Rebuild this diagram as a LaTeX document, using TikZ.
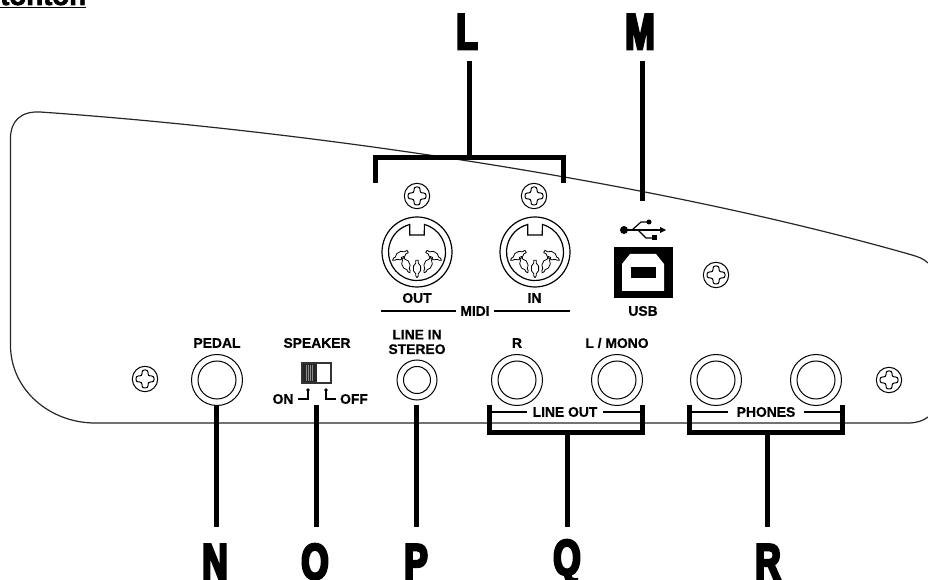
\documentclass[tikz,border=0pt]{standalone}
\usepackage{fontspec}
\setmainfont{Liberation Sans}
\newfontfamily\heavy[FakeStretch=0.7,FakeBold=5]{Liberation Sans Bold}
\newfontfamily\lbl[FakeBold=0.5]{Liberation Sans Bold}
\newfontfamily\headf[FakeBold=2.5]{Liberation Sans Bold}
\tikzset{
  outline/.style={draw=black!85,line width=0.9pt},
  leader/.style={draw=black,line width=3.75pt},
  fine/.style={draw=black,line width=0.75pt},
  rule/.style={draw=black,line width=1.3pt},
  letter/.style={font=\heavy\fontsize{37.7}{37.7}\selectfont,inner sep=0pt,text=black,anchor=base},
  tag/.style={font=\lbl\fontsize{10.4}{10.9}\selectfont,inner sep=0pt,align=center,text=black},
  pics/screw/.style={code={
    \draw[fine] (0,0) circle (12.7);
    \draw[fine,rounded corners=1.8pt] (-3,-9) -- (3,-9) -- (3,-3) -- (9,-3) -- (9,3) -- (3,3) -- (3,9) -- (-3,9) -- (-3,3) -- (-9,3) -- (-9,-3) -- (-3,-3) -- cycle;
  }},
  pics/jack/.style={code={
    \draw[fine] (0,0) circle (25.5);
    \draw[fine] (0,0) circle (19);
  }},
  pics/smalljack/.style={code={
    \draw[fine] (0,0) circle (20);
    \draw[fine] (0,0) circle (13.5);
  }},
  din pin/.style={line width=0.6pt,line join=round},
  pics/din/.style={code={
    \draw[line width=0.9pt] (0,0) circle (35);
    \draw[line width=0.9pt] (7.4,-27.5) arc (-75:255:28.5) -- (-7.3,-17) -- (7.3,-17) -- cycle;
    \foreach \px/\py/\rot in {-16.7/3.7/-60,-11/12.7/25,0/16.7/0,11/12.7/-25,16.7/3.7/60}{
      \begin{scope}[shift={(\px,\py)},rotate=\rot]
        \draw[din pin] (-1.3,-8.5) -- (1.3,-8.5) -- (1.3,-5.5) -- (3.6,-2.5) -- (3.6,2) -- (1.3,5) -- (1.3,7) -- (0,9) -- (-1.3,7) -- (-1.3,5) -- (-3.6,2) -- (-3.6,-2.5) -- (-1.3,-5.5) -- cycle;
      \end{scope}
    }
  }}
}
\begin{document}
\begin{tikzpicture}[x=0.75pt,y=-0.75pt]
\useasboundingbox (0,0) rectangle (928,580);
% cut-off heading
\node[font=\headf\fontsize{20.7}{20.7}\selectfont,anchor=base west,inner sep=0pt] (head) at (0,5) {tonton};
\fill (0,6.7) rectangle (86,8.5);
% body outline
\draw[outline] (912,255) .. controls (650,180) and (300,130) .. (40,112) .. controls (20,111) and (10.5,122) .. (10.5,138) -- (10.5,345) .. controls (10.5,390) and (50,423) .. (95,423) -- (908,423) .. controls (916,423) and (923,421) .. (928,417);
\draw[outline] (912,255) .. controls (919,257) and (924,259) .. (928,263);
% letters
\node[letter] (L) at (467,49) {L};
\node[letter] (M) at (640,49) {M};
\node[letter] (N) at (215,579) {N};
\node[letter] (O) at (315,579) {O};
\node[letter] (P) at (416,579) {P};
\node[letter] (Q) at (567,575) {Q};
\node[letter] (R) at (768,579) {R};
% leader ends
\coordinate (Ltop) at (469,61);
\coordinate (Ljoin) at (469,157.5);
\coordinate (Lleft) at (375.5,183);
\coordinate (Lright) at (563.5,183);
\coordinate (Mtop) at (642,61);
\coordinate (Mend) at (642,201);
\coordinate (Nend) at (216,405);
\coordinate (Nlow) at (216,527);
\coordinate (Oend) at (316,405);
\coordinate (Olow) at (316,527);
\coordinate (Pend) at (416.5,405);
\coordinate (Plow) at (416.5,527);
\coordinate (Qlow) at (567,527);
\coordinate (Qjoin) at (567,432.5);
\coordinate (Qleft) at (489.5,405);
\coordinate (Qright) at (642.5,405);
\coordinate (Rlow) at (767,527);
\coordinate (Rjoin) at (767,432.5);
\coordinate (Rleft) at (689.5,405);
\coordinate (Rright) at (842.5,405);
% leaders
\draw[leader] (Ltop) -- (Ljoin);
\draw[leader,line join=miter] (Lleft) |- (Ljoin) -| (Lright);
\draw[leader] (Mtop) -- (Mend);
\draw[leader] (Nend) -- (Nlow);
\draw[leader] (Oend) -- (Olow);
\draw[leader] (Pend) -- (Plow);
\draw[leader] (Qlow) -- (Qjoin);
\draw[leader,line join=miter] (Qleft) |- (Qjoin) -| (Qright);
\draw[leader] (Rlow) -- (Rjoin);
\draw[leader,line join=miter] (Rleft) |- (Rjoin) -| (Rright);
% screws
\pic at (417,196) {screw};
\pic at (534,196) {screw};
\pic at (716,275) {screw};
\pic at (145,379) {screw};
\pic at (889,380) {screw};
% jacks
\pic at (217,380) {jack};
\pic at (517,380) {jack};
\pic at (617,380) {jack};
\pic at (716,380) {jack};
\pic at (816,380) {jack};
\pic at (417,380) {smalljack};
% MIDI
\pic at (417,252) {din};
\pic at (535,252) {din};
\node[tag] (out) at (417,298) {OUT};
\node[tag] (in) at (534.5,298) {IN};
\node[tag] (midi) at (475,311) {MIDI};
\coordinate (mL) at (381,311);
\coordinate (mR) at (570,311);
\draw[rule] (mL) -- ([xshift=-3pt]midi.west);
\draw[rule] ([xshift=3pt]midi.east) -- (mR);
% USB
\fill[black] (614,247) rectangle (673,298);
\fill[white] (622,291) -- (622,264) -- (630,254) -- (656,254) -- (664,264) -- (664,291) -- cycle;
\fill[black] (631,267) rectangle (656,278);
\fill[black] (624,230) circle (4);
\draw[line width=0.9pt] (624,230) -- (662,230);
\fill[black] (660,227) -- (666,230) -- (660,233) -- cycle;
\draw[line width=0.9pt] (632,230) -- (641,222) -- (649,222);
\fill[black] (649,222) circle (2.5);
\draw[line width=0.9pt] (638,230) -- (646,238) -- (654,238);
\fill[black] (652,235.5) rectangle (657,240.5);
\node[tag] (usb) at (643,311) {USB};
% labels
\node[tag] (pedal) at (217,343) {PEDAL};
\node[tag] (speaker) at (317,343) {SPEAKER};
\node[tag] (linein) at (417,342) {LINE IN\\STEREO};
\node[tag] (r) at (517,343) {R};
\node[tag] (lmono) at (617,343) {L / MONO};
\node[tag] (lineout) at (565,412) {LINE OUT};
\node[tag] (phones) at (766,412) {PHONES};
\coordinate (loL) at (490,412);
\coordinate (loR) at (642,412);
\coordinate (phL) at (690,412);
\coordinate (phR) at (842,412);
\draw[rule] (loL) -- ([xshift=-4pt]lineout.west);
\draw[rule] ([xshift=4pt]lineout.east) -- (loR);
\draw[rule] (phL) -- ([xshift=-6pt]phones.west);
\draw[rule] ([xshift=6pt]phones.east) -- (phR);
% speaker switch
\fill[black!85] (302,363) rectangle (317,383);
\foreach \sx in {306,308,310,312}{\draw[black!45,line width=0.5pt] (\sx,365) -- (\sx,381);}
\draw[line width=0.9pt,draw=black!80] (302,363) rectangle (331,383);
\node[tag] (on) at (283,399) {ON};
\node[tag] (off) at (354,399) {OFF};
\coordinate (onDot) at (308,390);
\coordinate (offDot) at (326,390);
\fill (onDot) circle (1.8);
\fill (offDot) circle (1.8);
\draw[line width=0.8pt] (onDot) |- ([xshift=3pt]on.east);
\draw[line width=0.8pt] (offDot) |- ([xshift=-3pt]off.west);
\end{tikzpicture}
\end{document}
